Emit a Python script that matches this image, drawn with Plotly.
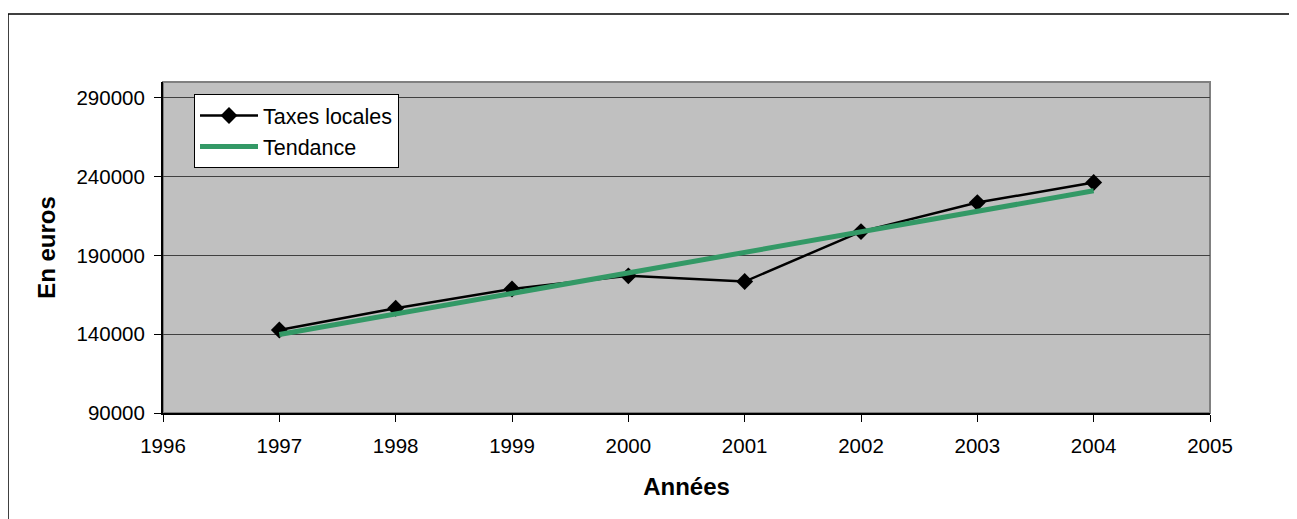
import plotly.graph_objects as go

years = [1997, 1998, 1999, 2000, 2001, 2002, 2003, 2004]
taxes_locales = [142700, 156500, 168700, 177000, 173400, 205100, 223500, 236200]
trend_years = [1997, 2004]
trend_values = [139800, 231000]

x_ticks = [1996, 1997, 1998, 1999, 2000, 2001, 2002, 2003, 2004, 2005]
y_ticks = [90000, 140000, 190000, 240000, 290000]

# page is rendered with the default 8px body margin
OFF = 8
PAGE_W, PAGE_H = 1297, 519
W, H = PAGE_W - OFF, PAGE_H - OFF
L, R, T, B = 163 - OFF, 1210 - OFF, 82 - OFF, 413 - OFF  # plot area (figure px)

def px_x(p):
    return (p - OFF - L) / (R - L)

def px_y(p):
    return (B - (p - OFF)) / (B - T)

FONT = "Liberation Sans, Arial, sans-serif"

fig = go.Figure()
fig.add_trace(go.Scatter(
    x=years, y=taxes_locales, name="Taxes locales", mode="lines+markers",
    line=dict(color="black", width=2.5),
    marker=dict(symbol="diamond", size=13, color="black"),
    legendgroup="a",
))
fig.add_trace(go.Scatter(
    x=trend_years, y=trend_values, name="Tendance", mode="lines",
    line=dict(color="#339966", width=5),
    legendgroup="b",
))

fig.update_layout(
    width=W, height=H,
    margin=dict(l=L, r=W - R, t=T, b=H - B, pad=0),
    paper_bgcolor="white",
    plot_bgcolor="#C0C0C0",
    font=dict(family=FONT, size=20, color="black"),
    showlegend=True,
    legend=dict(
        x=px_x(194), y=px_y(94), xanchor="left", yanchor="top",
        bgcolor="white", bordercolor="black", borderwidth=1,
        font=dict(family=FONT, size=21.5, color="black"),
        tracegroupgap=0, traceorder="grouped", itemwidth=58,
    ),
    xaxis=dict(
        range=[1996, 2005], tickvals=x_ticks, ticktext=[str(v) for v in x_ticks],
        showgrid=False, zeroline=False,
        showline=True, linecolor="black", linewidth=2,
        ticks="outside", ticklen=7, tickcolor="black", tickwidth=1,
        ticklabelstandoff=6,
        tickfont=dict(family=FONT, size=20.5),
        title=dict(text="<b>Années</b>", font=dict(family=FONT, size=24), standoff=23),
    ),
    yaxis=dict(
        range=[90000, 300000], tickvals=y_ticks, tickformat="d",
        showgrid=True, gridcolor="#404040", gridwidth=1, zeroline=False,
        showline=True, linecolor="black", linewidth=2,
        ticks="outside", ticklen=7, tickcolor="black", tickwidth=1,
        ticklabelstandoff=5,
        tickfont=dict(family=FONT, size=20.5),
        title=dict(text="<b>En euros</b>", font=dict(family=FONT, size=24), standoff=14),
    ),
    shapes=[
        dict(type="rect", xref="paper", yref="paper", x0=0, y0=0, x1=1, y1=1,
             line=dict(color="#808080", width=2), layer="below"),
        dict(type="line", xref="paper", yref="paper",
             x0=px_x(8), y0=px_y(14), x1=px_x(PAGE_W + 5), y1=px_y(14),
             line=dict(color="black", width=1.5)),
        dict(type="line", xref="paper", yref="paper",
             x0=px_x(8), y0=px_y(14), x1=px_x(8), y1=px_y(PAGE_H + 5),
             line=dict(color="black", width=1.5)),
    ],
)

fig.write_html("out.html")
